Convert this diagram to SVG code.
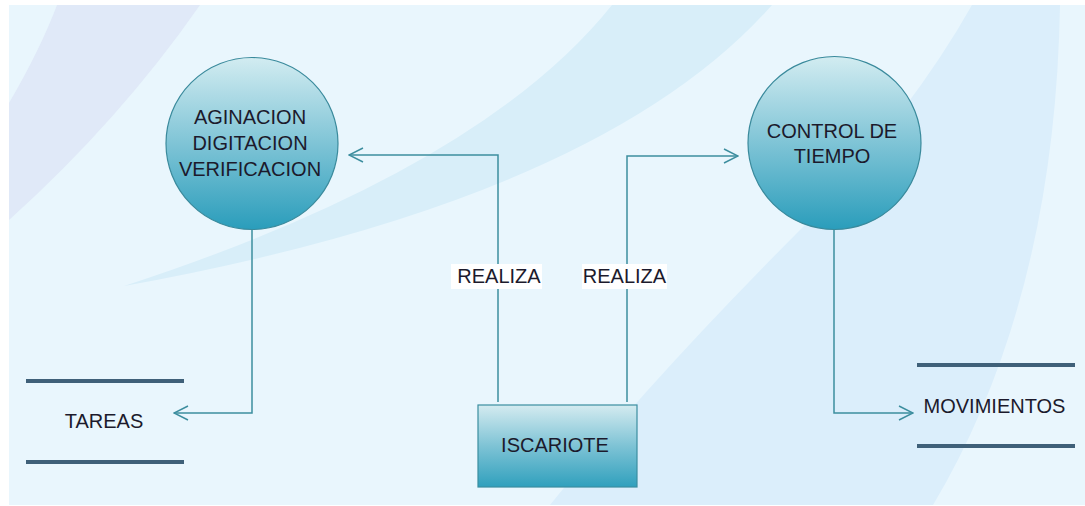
<svg xmlns="http://www.w3.org/2000/svg" width="1085" height="506" viewBox="0 0 1085 506">
  <style>
    .lbl { font-family: "Liberation Sans", Arial, sans-serif; font-size: 20px; fill: #1c1a2c; text-anchor: middle; }
    .conn { fill: none; stroke: #3d8e9f; stroke-width: 1.5; }
    .store { stroke: #3f6079; stroke-width: 4; }
    .proc { stroke: #3a8a9c; stroke-width: 1.2; }
  </style>
  <defs>
    <linearGradient id="gCircle" x1="0" y1="0" x2="0" y2="1">
      <stop offset="0" stop-color="#d2ecf1"/>
      <stop offset="0.5" stop-color="#7fc4d6"/>
      <stop offset="1" stop-color="#2a9dbb"/>
    </linearGradient>
    <linearGradient id="gBox" x1="0" y1="0" x2="0" y2="1">
      <stop offset="0" stop-color="#d4ebf0"/>
      <stop offset="0.5" stop-color="#7ec3d5"/>
      <stop offset="1" stop-color="#30a0bd"/>
    </linearGradient>
    <marker id="arr" viewBox="0 0 16 16" refX="15" refY="8" markerWidth="16" markerHeight="16" markerUnits="userSpaceOnUse" orient="auto">
      <path d="M1,1 L15,8 L1,15" fill="none" stroke="#3d8e9f" stroke-width="1.5"/>
    </marker>
  </defs>

  <!-- background -->
  <rect x="0" y="0" width="1085" height="506" fill="#ffffff"/>
  <rect x="9" y="5" width="1076" height="500" fill="#e9f6fd"/>
  <path d="M57,5 L200,5 Q120,120 9,220 L9,103 Q40,50 57,5 Z" fill="#e0e9f8"/>
  <path d="M612,5 L772,5 Q600,200 124,286 Q480,170 612,5 Z" fill="#d8eef9"/>
  <path d="M972,5 L1060,5 Q1055,300 933,505 L550,505 Q650,380 804,226 Q913,110 972,5 Z" fill="#dbeefb"/>

  <!-- connectors -->
  <g id="connectors">
    <path class="conn" d="M498,402 V155 H349" marker-end="url(#arr)"/>
    <path class="conn" d="M627,402 V156 H738" marker-end="url(#arr)"/>
    <path class="conn" d="M252,230 V413 H174" marker-end="url(#arr)"/>
    <path class="conn" d="M834,230 V413 H913" marker-end="url(#arr)"/>
    <rect x="451" y="264" width="91" height="25" fill="#ffffff"/>
    <text class="lbl" x="499" y="283">REALIZA</text>
    <rect x="582" y="264" width="85" height="25" fill="#ffffff"/>
    <text class="lbl" x="624.5" y="283">REALIZA</text>
  </g>

  <g id="proc1">
    <circle class="proc" cx="252" cy="143.5" r="86" fill="url(#gCircle)"/>
    <text class="lbl" x="250" y="124">AGINACION</text>
    <text class="lbl" x="250" y="150">DIGITACION</text>
    <text class="lbl" x="250" y="176">VERIFICACION</text>
  </g>

  <g id="proc2">
    <circle class="proc" cx="834.5" cy="143" r="86.5" fill="url(#gCircle)"/>
    <text class="lbl" x="832" y="138">CONTROL DE</text>
    <text class="lbl" x="832" y="163">TIEMPO</text>
  </g>

  <g id="iscariote">
    <rect x="478" y="405" width="159" height="82" fill="url(#gBox)" stroke="#3b8ea0" stroke-width="1.2"/>
    <text class="lbl" x="555" y="452">ISCARIOTE</text>
  </g>

  <g id="tareas">
    <line class="store" x1="26" y1="381" x2="184" y2="381"/>
    <line class="store" x1="26" y1="462" x2="184" y2="462"/>
    <text class="lbl" x="104" y="428">TAREAS</text>
  </g>

  <g id="movimientos">
    <line class="store" x1="917" y1="365" x2="1075" y2="365"/>
    <line class="store" x1="917" y1="446" x2="1075" y2="446"/>
    <text class="lbl" x="994.5" y="413">MOVIMIENTOS</text>
  </g>
</svg>
